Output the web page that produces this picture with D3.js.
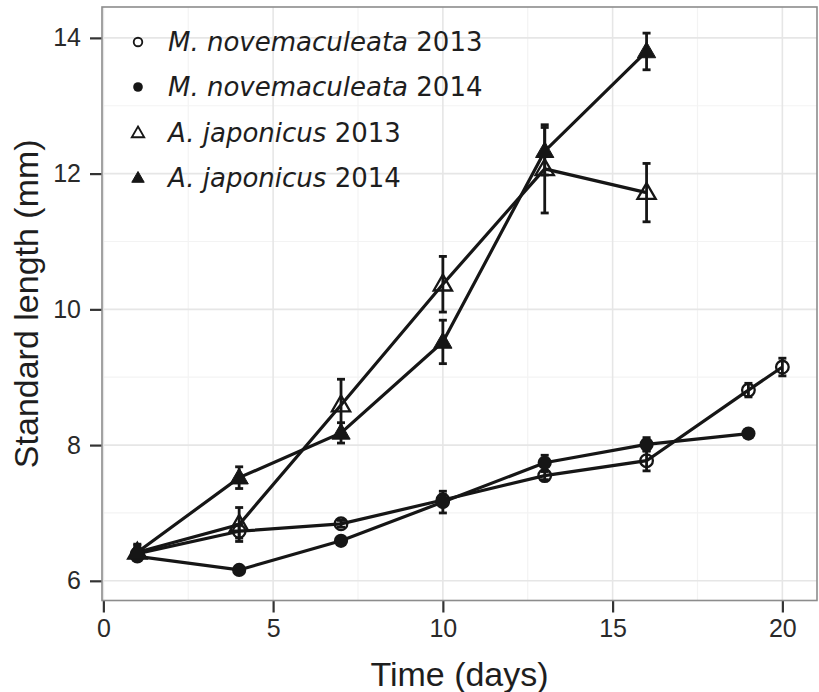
<!DOCTYPE html>
<html>
<head>
<meta charset="utf-8">
<script src="https://cdn.jsdelivr.net/npm/d3@7"></script>
<style>
html,body{margin:0;padding:0;background:#fff;}
svg{display:block;}
</style>
</head>
<body>
<svg id="chart" width="819" height="692"></svg>
<script>
// ---- data ----
const seriesNames = ["M. novemaculeata 2013","M. novemaculeata 2014","A. japonicus 2013","A. japonicus 2014"];
const speciesLabels = ["M. novemaculeata","M. novemaculeata","A. japonicus","A. japonicus"];
const yearLabels = ["2013","2014","2013","2014"];
const shapes = ["openCircle","filledCircle","openTriangle","filledTriangle"];

const mnov2013Days = [1,4,7,10,13,16,19,20];
const mnov2013Mean = [6.40,6.73,6.84,7.19,7.55,7.77,8.81,9.15];
const mnov2013Err  = [0.08,0.10,0.05,0.08,0.06,0.15,0.10,0.13];

const mnov2014Days = [1,4,7,10,13,16,19];
const mnov2014Mean = [6.36,6.16,6.59,7.16,7.74,8.01,8.17];
const mnov2014Err  = [0.05,0.05,0.05,0.16,0.11,0.10,0.05];

const ajap2013Days = [1,4,7,10,13,16];
const ajap2013Mean = [6.42,6.83,8.59,10.37,12.07,11.72];
const ajap2013Err  = [0.10,0.25,0.38,0.41,0.65,0.43];

const ajap2014Days = [1,4,7,10,13,16];
const ajap2014Mean = [6.42,7.52,8.18,9.52,12.33,13.80];
const ajap2014Err  = [0.12,0.16,0.15,0.32,0.35,0.27];

const xTicks = [0,5,10,15,20];
const yTicks = [6,8,10,12,14];
const xMinor = [2.5,7.5,12.5,17.5];
const yMinor = [7,9,11,13];
const xTitle = "Time (days)";
const yTitle = "Standard length (mm)";

const series = [
  {days:mnov2013Days, mean:mnov2013Mean, err:mnov2013Err},
  {days:mnov2014Days, mean:mnov2014Mean, err:mnov2014Err},
  {days:ajap2013Days, mean:ajap2013Mean, err:ajap2013Err},
  {days:ajap2014Days, mean:ajap2014Mean, err:ajap2014Err}
].map((s,i)=>({name:seriesNames[i], shape:shapes[i],
  pts:s.days.map((d,j)=>({x:d, y:s.mean[j], e:s.err[j]}))}));

// ---- layout ----
const P = {left:102, right:817, top:7, bottom:600.5};
const svg = d3.select("#chart");
const x = d3.scaleLinear().domain([-0.04, 21.02]).range([P.left, P.right]);
const y = d3.scaleLinear().domain([5.71, 14.455]).range([P.bottom, P.top]);
const ink = "#161616";

svg.append("rect").attr("x",P.left).attr("y",P.top)
  .attr("width",P.right-P.left).attr("height",P.bottom-P.top).attr("fill","#fff");

// gridlines
const grid = svg.append("g");
grid.selectAll(".xm").data(xMinor).join("line")
  .attr("x1",d=>x(d)).attr("x2",d=>x(d)).attr("y1",P.top).attr("y2",P.bottom)
  .attr("stroke","#f3f3f3").attr("stroke-width",1.2);
grid.selectAll(".ym").data(yMinor).join("line")
  .attr("y1",d=>y(d)).attr("y2",d=>y(d)).attr("x1",P.left).attr("x2",P.right)
  .attr("stroke","#f3f3f3").attr("stroke-width",1.2);
grid.selectAll(".xM").data(xTicks).join("line")
  .attr("x1",d=>x(d)).attr("x2",d=>x(d)).attr("y1",P.top).attr("y2",P.bottom)
  .attr("stroke","#e6e6e6").attr("stroke-width",1.6);
grid.selectAll(".yM").data(yTicks).join("line")
  .attr("y1",d=>y(d)).attr("y2",d=>y(d)).attr("x1",P.left).attr("x2",P.right)
  .attr("stroke","#e6e6e6").attr("stroke-width",1.6);

// axes
const xAxis = svg.append("g").attr("transform",`translate(0,${P.bottom})`)
  .call(d3.axisBottom(x).tickValues(xTicks).tickSize(12).tickPadding(7).tickFormat(d3.format("d")));
const yAxis = svg.append("g").attr("transform",`translate(${P.left},0)`)
  .call(d3.axisLeft(y).tickValues(yTicks).tickSize(12).tickPadding(9).tickFormat(d3.format("d")));
[xAxis,yAxis].forEach(a=>{
  a.select(".domain").remove();
  a.selectAll(".tick line").attr("stroke","#333").attr("stroke-width",2.2);
  a.selectAll(".tick text").attr("fill","#2a2a2a")
    .style("font-family","'Liberation Sans', Arial, sans-serif").style("font-size","25px");
});

// panel border
svg.append("rect").attr("x",P.left).attr("y",P.top)
  .attr("width",P.right-P.left).attr("height",P.bottom-P.top)
  .attr("fill","none").attr("stroke","#8c8c8c").attr("stroke-width",1.6);

// axis titles
svg.append("text").attr("x",(P.left+P.right)/2).attr("y",686)
  .attr("text-anchor","middle").attr("fill","#1e1e1e")
  .style("font-family","'Liberation Sans', Arial, sans-serif").style("font-size","34px")
  .text(xTitle);
svg.append("text").attr("transform",`translate(38,${(P.top+P.bottom)/2}) rotate(-90)`)
  .attr("text-anchor","middle").attr("fill","#1e1e1e")
  .style("font-family","'Liberation Sans', Arial, sans-serif").style("font-size","34px")
  .text(yTitle);

// lines
const line = d3.line().x(d=>x(d.x)).y(d=>y(d.y));
const gLines = svg.append("g");
series.forEach(s=>{
  gLines.append("path").datum(s.pts).attr("d",line)
    .attr("fill","none").attr("stroke",ink).attr("stroke-width",3.2);
});

// error bars
const gErr = svg.append("g").attr("stroke",ink).attr("stroke-width",2.8);
series.forEach(s=>{
  s.pts.forEach(p=>{
    const cx = x(p.x), y1 = y(p.y+p.e), y2 = y(p.y-p.e);
    gErr.append("line").attr("x1",cx).attr("x2",cx).attr("y1",y1).attr("y2",y2);
    gErr.append("line").attr("x1",cx-4).attr("x2",cx+4).attr("y1",y1).attr("y2",y1);
    gErr.append("line").attr("x1",cx-4).attr("x2",cx+4).attr("y1",y2).attr("y2",y2);
  });
});

// markers
function drawMarker(g, shape, cx, cy, scale){
  const r = 6.3*scale;
  if(shape==="openCircle"){
    g.append("circle").attr("cx",cx).attr("cy",cy).attr("r",r)
      .attr("fill","none").attr("stroke",ink).attr("stroke-width",2.3*Math.max(scale,0.8));
  } else if(shape==="filledCircle"){
    g.append("circle").attr("cx",cx).attr("cy",cy).attr("r",r+0.8*scale).attr("fill",ink);
  } else {
    const sz = 145*scale*scale;
    const p = d3.symbol(d3.symbolTriangle, sz)();
    const el = g.append("path").attr("d",p).attr("transform",`translate(${cx},${cy+1*scale})`);
    if(shape==="openTriangle"){
      el.attr("fill","none").attr("stroke",ink).attr("stroke-width",2.3*Math.max(scale,0.8));
    } else {
      el.attr("fill",ink).attr("stroke",ink).attr("stroke-width",1);
    }
  }
}
const gPts = svg.append("g");
series.forEach(s=>{
  s.pts.forEach(p=>drawMarker(gPts, s.shape, x(p.x), y(p.y), 1));
});

// legend
const legendY = [42,87,133,178];
const gLeg = svg.append("g");
seriesNames.forEach((n,i)=>{
  drawMarker(gLeg, shapes[i], 138, legendY[i], 0.68);
  const t = gLeg.append("text").attr("x",168).attr("y",legendY[i]+9)
    .attr("fill","#1e1e1e")
    .style("font-family","'DejaVu Sans', sans-serif").style("font-size","26px");
  t.append("tspan").style("font-style","italic").text(speciesLabels[i]);
  t.append("tspan").text(" " + yearLabels[i]);
});
</script>
</body>
</html>
